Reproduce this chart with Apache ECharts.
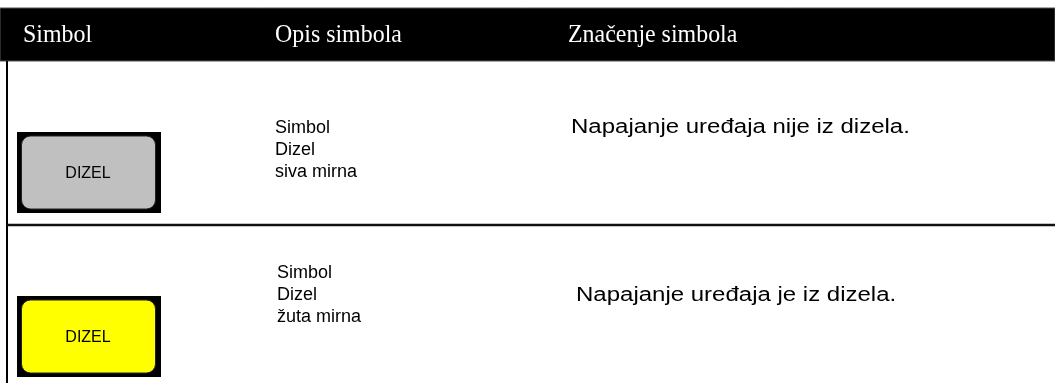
<!DOCTYPE html>
<html>
<head>
<meta charset="utf-8">
<script src="https://cdn.jsdelivr.net/npm/echarts@6/dist/echarts.min.js"></script>
<style>
html,body{margin:0;padding:0;background:#fff;}
#main{width:1055px;height:383px;}
</style>
</head>
<body>
<div id="main"></div>
<script>
// Table content
var headers = ['Simbol', 'Opis simbola', 'Značenje simbola'];
var symbolLabels = ['DIZEL', 'DIZEL'];
var symbolColors = ['#c0c0c0', '#ffff00'];
var descriptions = [
  ['Simbol', 'Dizel', 'siva mirna'],
  ['Simbol', 'Dizel', 'žuta mirna']
];
var meanings = ['Napajanje uređaja nije iz dizela.', 'Napajanje uređaja je iz dizela.'];

var chart = echarts.init(document.getElementById('main'), null, {renderer: 'canvas'});

var W = 1055;
var headerTop = 8, headerBottom = 61;
var headerX = [23, 275, 568];
var descX = [275, 277];
var descY = [128, 273];
var lineGap = 22;
var meanX = [571, 576];
var meanY = [127, 295];
var btnTop = [132, 296];

var elements = [];
elements.push({
  type: 'rect', shape: {x: 0, y: headerTop, width: W, height: headerBottom - headerTop},
  style: {fill: '#000', stroke: '#555', lineWidth: 1}
});
headers.forEach(function (h, i) {
  elements.push({
    type: 'text', x: headerX[i], y: (headerTop + headerBottom) / 2 + 1, scaleX: 0.92,
    style: {text: h, fill: '#fff', font: '26px "Liberation Serif", "Times New Roman", serif', verticalAlign: 'middle', align: 'left'}
  });
});
elements.push({
  type: 'line', shape: {x1: 7, y1: headerBottom, x2: 7, y2: 383},
  style: {stroke: '#000', lineWidth: 2}
});
elements.push({
  type: 'line', shape: {x1: 7, y1: 225, x2: W, y2: 225},
  style: {stroke: '#111', lineWidth: 2.5}
});

for (var r = 0; r < 2; r++) {
  elements.push({
    type: 'rect', shape: {x: 17, y: btnTop[r], width: 144, height: 81},
    style: {fill: '#000'}
  });
  elements.push({
    type: 'rect', shape: {x: 21.5, y: btnTop[r] + 4, width: 134, height: 73, r: 9},
    style: {fill: symbolColors[r], stroke: '#222', lineWidth: 1}
  });
  elements.push({
    type: 'text', x: 88, y: btnTop[r] + 42,
    style: {text: symbolLabels[r], fill: '#000', font: '16px "Liberation Sans", Arial, sans-serif', align: 'center', verticalAlign: 'middle'}
  });
  descriptions[r].forEach(function (t, k) {
    elements.push({
      type: 'text', x: descX[r], y: descY[r] + k * lineGap,
      style: {text: t, fill: '#000', font: '18px "Liberation Sans", Arial, sans-serif', align: 'left', verticalAlign: 'middle'}
    });
  });
  elements.push({
    type: 'text', x: meanX[r], y: meanY[r], scaleX: 1.2,
    style: {text: meanings[r], fill: '#000', font: '20px "Liberation Sans", Arial, sans-serif', align: 'left', verticalAlign: 'middle'}
  });
}

chart.setOption({
  animation: false,
  backgroundColor: '#fff',
  graphic: {elements: elements}
});
</script>
</body>
</html>
